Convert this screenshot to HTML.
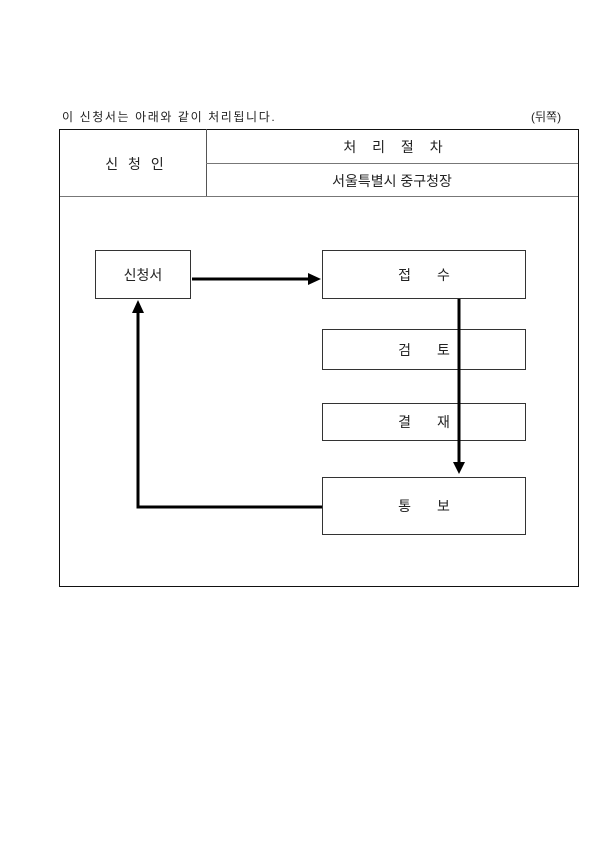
<!DOCTYPE html>
<html><head><meta charset="utf-8"><style>
body{margin:0;width:609px;height:860px;background:#fff;position:relative;font-family:"Liberation Sans","Noto Sans CJK KR",sans-serif;color:#222;}
.a{position:absolute}
.t{font-size:12px}
.box{position:absolute;border:1px solid #333;box-sizing:border-box;display:flex;align-items:center;justify-content:center;font-size:14px;background:#fff}
</style></head><body>
<div class="a t" style="left:62px;top:108px;letter-spacing:1.6px">이 신청서는 아래와 같이 처리됩니다.</div>
<div class="a t" style="left:531px;top:108px">(뒤쪽)</div>
<div class="a" style="left:59px;top:129px;width:520px;height:458px;border:1.5px solid #111;box-sizing:border-box"></div>
<div class="a" style="left:206px;top:129px;width:1px;height:68px;background:#555"></div>
<div class="a" style="left:206px;top:163px;width:372px;height:1px;background:#777"></div>
<div class="a" style="left:60px;top:196px;width:518px;height:1px;background:#777"></div>
<div class="a" style="left:63px;top:154px;width:146px;text-align:center;font-size:14px;letter-spacing:3px">신 청 인</div>
<div class="a" style="left:210px;top:137px;width:372px;text-align:center;font-size:14px;letter-spacing:6px">처 리 절 차</div>
<div class="a" style="left:206px;top:171px;width:372px;text-align:center;font-size:14px">서울특별시 중구청장</div>
<div class="box" style="left:95px;top:250px;width:96px;height:49px">신청서</div>
<div class="box" style="left:322px;top:250px;width:204px;height:49px;word-spacing:22px">접 수</div>
<div class="box" style="left:322px;top:329px;width:204px;height:41px;word-spacing:22px">검 토</div>
<div class="box" style="left:322px;top:403px;width:204px;height:38px;word-spacing:22px">결 재</div>
<div class="box" style="left:322px;top:477px;width:204px;height:58px;word-spacing:22px">통 보</div>
<svg class="a" style="left:0;top:0" width="609" height="860">
<g stroke="#000" stroke-width="3" fill="none">
<line x1="192" y1="279" x2="310" y2="279"/>
<line x1="459" y1="299" x2="459" y2="463"/>
<polyline points="322,507 138,507 138,312"/>
</g>
<polygon points="308,273 321,279 308,285" fill="#000"/>
<polygon points="453,462 459,474 465,462" fill="#000"/>
<polygon points="132,313 138,300 144,313" fill="#000"/>
</svg>
</body></html>
